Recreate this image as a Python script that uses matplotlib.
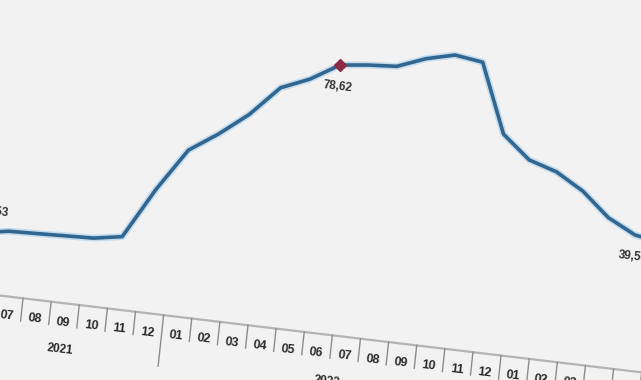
import matplotlib.pyplot as plt
from matplotlib.transforms import Affine2D
import numpy as np

# Monthly annual inflation (%), Jun 2021 - Jun 2023
months = ["06", "07", "08", "09", "10", "11", "12",
          "01", "02", "03", "04", "05", "06", "07", "08", "09", "10", "11", "12",
          "01", "02", "03", "04", "05", "06"]
years = ["2021"] * 7 + ["2022"] * 12 + ["2023"] * 6
values = [17.53, 18.95, 19.25, 19.58, 19.89, 21.31, 36.08,
          48.69, 54.44, 61.14, 69.97, 73.50, 78.62, 79.60, 80.21, 83.45, 85.51, 84.39, 64.27,
          57.68, 55.18, 50.51, 43.68, 39.59, 38.21]
labelled = {0: "17,53", 12: "78,62", 23: "39,59"}
highlight = 12

u = np.arange(len(values))

fig = plt.figure(figsize=(6.41, 3.80), dpi=100)
fig.patch.set_facecolor("#f2f2f2")
ax = fig.add_axes([0, 0, 1, 1])
ax.set_facecolor("#f2f2f2")
ax.set_xlim(0, 641)
ax.set_ylim(380, 0)
ax.axis("off")

# the source picture is a tilted photo of the chart: month/value -> pixel
tilt = Affine2D(np.array([[28.12, 0.366, -26.2],
                          [3.367, -3.406, 292.4],
                          [0, 0, 1]]))
T = tilt + ax.transData
ang = -6.6
font = "Liberation Sans"

# line with soft glow
ax.plot(u, values, color="#a9cde8", lw=5, alpha=0.6, transform=T,
        solid_joinstyle="round")
ax.plot(u, values, color="#306690", lw=2.6, transform=T, solid_joinstyle="round")
ax.plot(u[highlight], values[highlight], marker="D", ms=6, color="#8e2a45",
        transform=T)

for i, txt in labelled.items():
    dv = 6.6 if i == 0 else -6.4
    du = 0.4 if i == 0 else 0.0
    ax.text(u[i] + du, values[i] + dv, txt, transform=T, rotation=ang,
            rotation_mode="anchor", ha="center", va="center",
            fontsize=8.5, fontweight="bold", color="#333333", family=font)

# category axis
shift = 0.25
ax.plot([u[0] - 0.5 + shift, u[-1] + 0.5 + shift], [0, 0], color="#b3b3b3",
        lw=1.6, transform=T)
for i in range(len(months) + 1):
    year_edge = i == 0 or i == len(months) or years[i] != years[i - 1]
    depth = -15 if year_edge else -6.7
    x0 = i - 0.5 + shift
    ax.plot([x0, x0], [0, depth], color="#8c8c8c", lw=1.0, transform=T)
for i, m in enumerate(months):
    ax.text(u[i] + shift, -5.6, m, transform=T, rotation=ang,
            rotation_mode="anchor", ha="center", va="center",
            fontsize=9, fontweight="bold", color="#2a2a2a", family=font)
for y in dict.fromkeys(years):
    idx = [i for i, yy in enumerate(years) if yy == y]
    ax.text(np.mean(idx) + shift, -13.5, y, transform=T, rotation=ang,
            rotation_mode="anchor", ha="center", va="center",
            fontsize=8.5, fontweight="bold", color="#2a2a2a", family=font)

fig.savefig("out.png", dpi=100, facecolor=fig.get_facecolor())
